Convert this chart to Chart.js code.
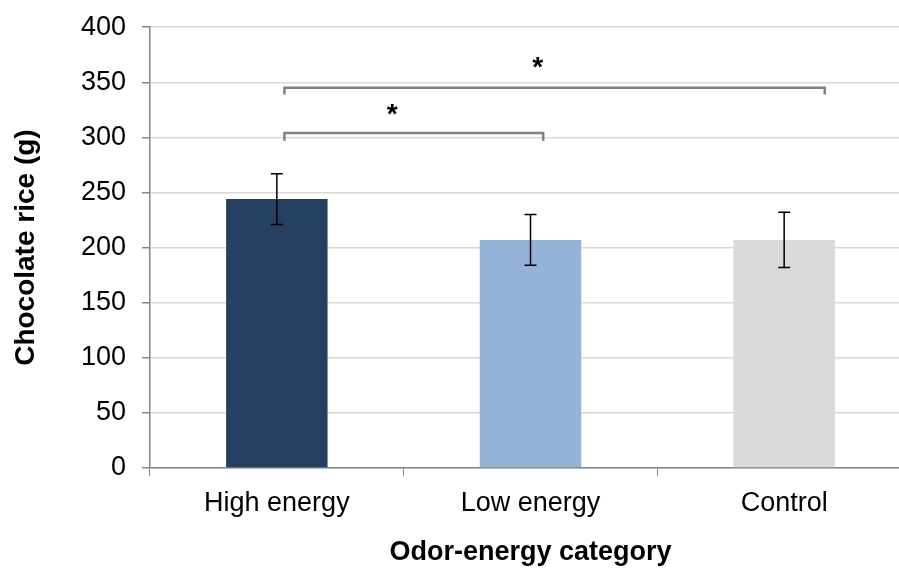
<!DOCTYPE html>
<html>
<head>
<meta charset="utf-8">
<script src="https://cdn.jsdelivr.net/npm/chart.js@4"></script>
<style>
  html, body { margin: 0; padding: 0; background: #fff; overflow: hidden; }
  #wrap { width: 911px; height: 576px; margin-top: -5px; }
</style>
</head>
<body>
<div id="wrap"><canvas id="riceChart"></canvas></div>
<script>
const categories = ['High energy', 'Low energy', 'Control'];
const meanRice = [244, 207, 207];
const semRice = [23, 23, 25];
const barColors = ['#254061', '#95B3D7', '#D9D9D9'];
const yTicks = [0, 50, 100, 150, 200, 250, 300, 350, 400];

// significance brackets (x in category index units, y in grams)
const bracketFrom = [0.03, 0.03];
const bracketTo = [1.05, 2.16];
const bracketY = [304, 345];
const bracketDrop = [7, 6];
const starX = [0.455, 1.028];
const starY = [325, 368];

const errorBars = {
    id: 'errorBars',
    afterDatasetsDraw(chart) {
        const ctx = chart.ctx;
        const y = chart.scales.y;
        const meta = chart.getDatasetMeta(0);
        ctx.save();
        ctx.strokeStyle = '#000';
        ctx.lineWidth = 1.5;
        meta.data.forEach((bar, i) => {
            const top = y.getPixelForValue(meanRice[i] + semRice[i]);
            const bot = y.getPixelForValue(meanRice[i] - semRice[i]);
            ctx.beginPath();
            ctx.moveTo(bar.x, top); ctx.lineTo(bar.x, bot);
            ctx.moveTo(bar.x - 6, top); ctx.lineTo(bar.x + 6, top);
            ctx.moveTo(bar.x - 6, bot); ctx.lineTo(bar.x + 6, bot);
            ctx.stroke();
        });
        ctx.restore();
    }
};

const brackets = {
    id: 'brackets',
    afterDatasetsDraw(chart) {
        const ctx = chart.ctx;
        const x = chart.scales.x;
        const y = chart.scales.y;
        ctx.save();
        ctx.strokeStyle = '#808080';
        ctx.lineWidth = 2.5;
        bracketY.forEach((v, i) => {
            const x1 = x.getPixelForValue(bracketFrom[i]);
            const x2 = x.getPixelForValue(bracketTo[i]);
            const yy = y.getPixelForValue(v);
            const yd = y.getPixelForValue(v - bracketDrop[i]);
            ctx.beginPath();
            ctx.moveTo(x1, yd); ctx.lineTo(x1, yy); ctx.lineTo(x2, yy); ctx.lineTo(x2, yd);
            ctx.stroke();
        });
        ctx.fillStyle = '#000';
        ctx.font = 'bold 28px "Liberation Sans", Arial, sans-serif';
        ctx.textAlign = 'center';
        ctx.textBaseline = 'alphabetic';
        const m = ctx.measureText('*');
        const shift = (m.actualBoundingBoxAscent - m.actualBoundingBoxDescent) / 2;
        starX.forEach((sx, i) => {
            ctx.fillText('*', x.getPixelForValue(sx), y.getPixelForValue(starY[i]) + shift);
        });
        ctx.restore();
    }
};

const ctx = document.getElementById('riceChart').getContext('2d');
const chart = new Chart(ctx, {
    type: 'bar',
    data: {
        labels: categories,
        datasets: [{
            data: meanRice,
            backgroundColor: barColors,
            borderWidth: 0,
            categoryPercentage: 1.0,
            barPercentage: 0.4
        }]
    },
    options: {
        responsive: true,
        maintainAspectRatio: false,
        animation: false,
        layout: { padding: { top: 21, right: 0, bottom: 0, left: 0 } },
        plugins: { legend: { display: false }, tooltip: { enabled: false } },
        scales: {
            x: {
                grid: { drawOnChartArea: false, drawTicks: true, tickLength: 8, tickColor: '#868686', offset: true },
                border: { color: '#868686', width: 1.5 },
                ticks: {
                    color: '#000', padding: 11,
                    font: { family: '"Liberation Sans", Arial, sans-serif', size: 27 }
                },
                title: {
                    display: true, text: 'Odor-energy category', color: '#000',
                    font: { family: '"Liberation Sans", Arial, sans-serif', size: 27, weight: 'bold' },
                    padding: { top: 0, bottom: 2 }
                },
                afterFit(s) { s.height = 103; }
            },
            y: {
                min: 0, max: 400,
                afterBuildTicks(s) { s.ticks = yTicks.map(v => ({ value: v })); },
                grid: { color: '#D9D9D9', lineWidth: 1.5, tickLength: 8, tickColor: '#868686' },
                border: { color: '#868686', width: 1.5 },
                ticks: {
                    color: '#000', padding: 16,
                    font: { family: '"Liberation Sans", Arial, sans-serif', size: 27 }
                },
                title: {
                    display: true, text: 'Chocolate rice (g)', color: '#000',
                    font: { family: '"Liberation Sans", Arial, sans-serif', size: 28, weight: 'bold' },
                    padding: { top: 9, bottom: 0 }
                },
                afterFit(s) { s.width = 150; }
            }
        }
    },
    plugins: [errorBars, brackets]
});
</script>
</body>
</html>
